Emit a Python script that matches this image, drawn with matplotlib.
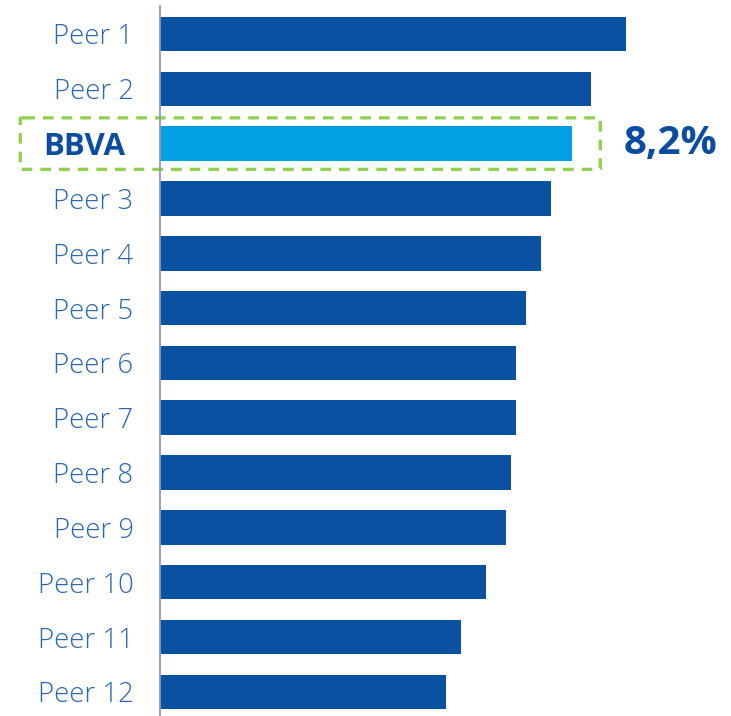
import matplotlib.pyplot as plt
from matplotlib.patches import FancyBboxPatch

# bar values (%), top to bottom
labels = ['Peer 1', 'Peer 2', 'BBVA', 'Peer 3', 'Peer 4', 'Peer 5', 'Peer 6',
          'Peer 7', 'Peer 8', 'Peer 9', 'Peer 10', 'Peer 11', 'Peer 12']
values = [9.27, 8.58, 8.2, 7.78, 7.58, 7.28, 7.09, 7.09, 6.99, 6.89, 6.49, 5.99, 5.69]
highlight = 'BBVA'
highlight_text = '8,2%'

dark_blue = '#0A51A1'
light_blue = '#029FE3'
label_blue = '#2A66B2'
green = '#92D050'

plt.rcParams['font.family'] = ['Open Sans', 'DejaVu Sans']

fig = plt.figure(figsize=(7.31, 7.16), dpi=100)
ax = fig.add_axes([160 / 731, 0, 571 / 731, 710 / 716])

colors = [light_blue if l == highlight else dark_blue for l in labels]
ypos = list(range(len(labels)))
ax.barh(ypos, values, height=0.63, color=colors)

ax.set_xlim(0, 11.36)
ax.set_ylim(12.44, -0.51)

ax.set_yticks(ypos)
ax.set_yticklabels(labels, fontsize=19.8, color=label_blue, fontweight='light')
ax.tick_params(axis='y', length=0, pad=19)
ax.set_xticks([])
for s in ['top', 'right', 'bottom']:
    ax.spines[s].set_visible(False)
ax.spines['left'].set_color('#8C98C8')
ax.spines['left'].set_linewidth(1.3)

hi = labels.index(highlight)
for t in ax.get_yticklabels():
    if t.get_text() == highlight:
        t.set_fontweight('bold')
        t.set_color('#0A4DA0')
        t.set_fontsize(22.5)
        t.set_x(-0.014)

# dashed highlight box
box = FancyBboxPatch((-2.78, hi - 0.47), 11.54, 0.94,
                     boxstyle='round,pad=0,rounding_size=0.08',
                     fill=False, edgecolor=green, linewidth=2.4,
                     linestyle=(0, (3.2, 2.4)), clip_on=False,
                     mutation_aspect=1 / 8)
ax.add_patch(box)

ax.text(9.22, hi, highlight_text, fontsize=29, fontweight='bold',
        color='#0A4DA0', va='center', ha='left')

fig.savefig('out.png', dpi=100)
